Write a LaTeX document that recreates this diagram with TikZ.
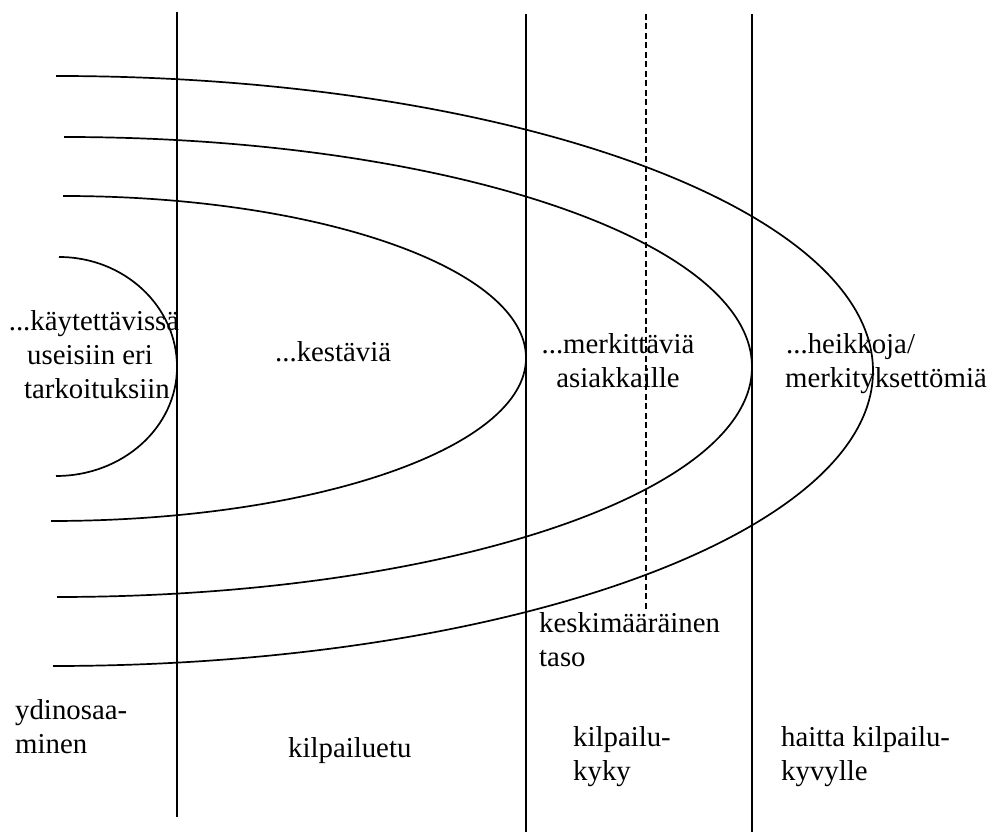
\documentclass[tikz,border=0pt]{standalone}
\usepackage{fontspec}
\setmainfont{Liberation Serif}
\begin{document}
\begin{tikzpicture}[x=1pt,y=1pt,
  rule/.style={line width=1.7pt},
  ring/.style={line width=1.7pt},
  lbl/.style={inner sep=0pt, font=\fontsize{28.8}{33}\selectfont},
  lw/.style={lbl, anchor=base west},
  lc/.style={lbl, anchor=base}]
\useasboundingbox (0,0) rectangle (992,832);

% vertical separators
\coordinate (a1) at (177,820); \coordinate (a2) at (177,15);
\coordinate (b1) at (526,818); \coordinate (b2) at (526,0);
\coordinate (c1) at (646,818); \coordinate (c2) at (646,222);
\coordinate (d1) at (752,818); \coordinate (d2) at (752,0);
\draw[rule] (a1) -- (a2);
\draw[rule] (b1) -- (b2);
\draw[rule, dash pattern=on 6pt off 3.5pt] (c1) -- (c2);
\draw[rule] (d1) -- (d2);

% nested half-ellipses
\coordinate (r1) at (59,575);
\coordinate (r2) at (63,636);
\coordinate (r3) at (64,695);
\coordinate (r4) at (56,756);
\draw[ring] (r1) arc[start angle=90,end angle=0,x radius=118pt,y radius=110pt]
                 arc[start angle=0,end angle=-90,x radius=121pt,y radius=109pt];
\draw[ring] (r2) arc[start angle=90,end angle=0,x radius=463pt,y radius=162pt]
                 arc[start angle=0,end angle=-90,x radius=475pt,y radius=163pt];
\draw[ring] (r3) arc[start angle=90,end angle=0,x radius=688pt,y radius=230pt]
                 arc[start angle=0,end angle=-90,x radius=695pt,y radius=230pt];
\draw[ring] (r4) arc[start angle=90,end angle=0,x radius=817pt,y radius=295pt]
                 arc[start angle=0,end angle=-90,x radius=820pt,y radius=295pt];

% labels inside the rings
\node[lc] (t1a) at (94,501) {...käytettävissä};
\node[lc] (t1b) at (90,467) {useisiin eri};
\node[lc] (t1c) at (97,433) {tarkoituksiin};
\node[lw] (t2)  at (275,470) {...kestäviä};
\node[lc] (t3a) at (618,478) {...merkittäviä};
\node[lc] (t3b) at (618,444) {asiakkaille};
\node[lw] (t4a) at (786,478) {...heikkoja/};
\node[lw] (t4b) at (785,444) {merkityksettömiä};

\node[lw] (m1) at (539,199) {keskimääräinen};
\node[lw] (m2) at (539,165) {taso};

% column captions
\node[lw] (k1a) at (15,113) {ydinosaa-};
\node[lw] (k1b) at (15,79) {minen};
\node[lw] (k2)  at (288,75) {kilpailuetu};
\node[lw] (k3a) at (573,85) {kilpailu-};
\node[lw] (k3b) at (573,52) {kyky};
\node[lw] (k4a) at (781,85) {haitta kilpailu-};
\node[lw] (k4b) at (781,52) {kyvylle};
\end{tikzpicture}
\end{document}
